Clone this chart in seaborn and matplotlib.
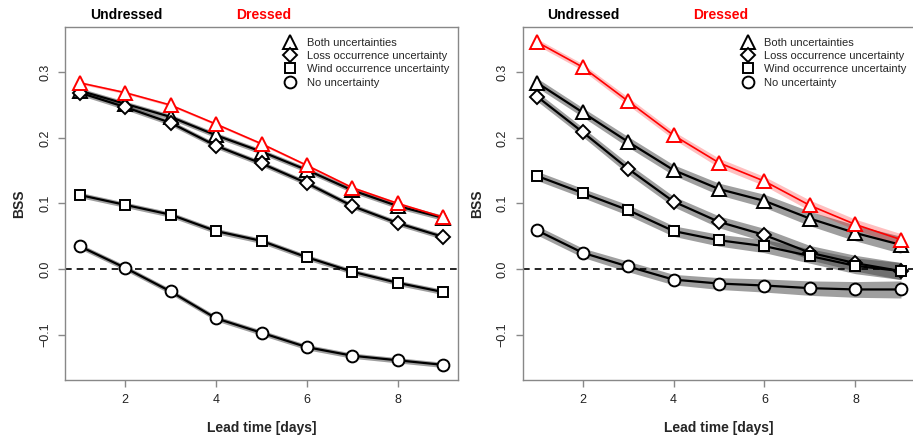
import numpy as np
import pandas as pd
import matplotlib
matplotlib.use("Agg")
import matplotlib.pyplot as plt
from matplotlib.lines import Line2D
import seaborn as sns

sns.set_style("white")
plt.rcParams['font.family'] = ['Liberation Sans', 'DejaVu Sans']

lead = [1, 2, 3, 4, 5, 6, 7, 8, 9]

# left panel
l_both = [0.272, 0.252, 0.232, 0.204, 0.179, 0.151, 0.120, 0.096, 0.078]
l_loss = [0.269, 0.247, 0.223, 0.188, 0.161, 0.131, 0.096, 0.070, 0.049]
l_wind = [0.113, 0.098, 0.083, 0.058, 0.043, 0.018, -0.004, -0.021, -0.035]
l_none = [0.035, 0.002, -0.034, -0.075, -0.097, -0.119, -0.132, -0.139, -0.146]
l_dressed = [0.284, 0.269, 0.250, 0.221, 0.191, 0.158, 0.124, 0.100, 0.079]
l_band = [0.004, 0.004, 0.004, 0.004, 0.004, 0.004, 0.004, 0.004, 0.004]
l_band_red = [0.002, 0.002, 0.002, 0.002, 0.002, 0.002, 0.002, 0.002, 0.002]

# right panel
r_both = [0.284, 0.239, 0.194, 0.151, 0.122, 0.104, 0.077, 0.055, 0.037]
r_loss = [0.263, 0.209, 0.153, 0.103, 0.072, 0.052, 0.025, 0.009, -0.003]
r_wind = [0.142, 0.116, 0.090, 0.058, 0.044, 0.035, 0.020, 0.005, -0.003]
r_none = [0.059, 0.025, 0.004, -0.016, -0.022, -0.025, -0.029, -0.031, -0.031]
r_dressed = [0.346, 0.308, 0.256, 0.204, 0.162, 0.134, 0.097, 0.068, 0.045]
r_band = [0.007, 0.007, 0.008, 0.008, 0.009, 0.010, 0.011, 0.012, 0.013]
r_band_red = [0.005, 0.005, 0.006, 0.006, 0.007, 0.007, 0.008, 0.008, 0.009]

labels = ['Both uncertainties', 'Loss occurrence uncertainty',
          'Wind occurrence uncertainty', 'No uncertainty']
markers = ['^', 'D', 's', 'o']
msizes = [10, 7, 7.5, 8.5]


def draw_panel(ax, series, dressed, band, band_red):
    x = np.array(lead)
    # uncertainty bands first
    for y in series:
        y = np.array(y)
        ax.fill_between(x, y - np.array(band), y + np.array(band),
                        color='#404040', alpha=0.5, lw=0, zorder=1)
    yd = np.array(dressed)
    ax.fill_between(x, yd - np.array(band_red), yd + np.array(band_red),
                    color='red', alpha=0.25, lw=0, zorder=1)
    ax.axhline(0, color='black', ls=(0, (4, 3)), lw=1.2, zorder=2)
    for y, m, ms in zip(series, markers, msizes):
        d = pd.DataFrame({'lead': lead, 'bss': y})
        sns.lineplot(data=d, x='lead', y='bss', ax=ax, color='black', lw=1.6,
                     marker=m, ms=ms, mfc='white', mec='black', mew=1.4,
                     errorbar=None, zorder=3)
    d = pd.DataFrame({'lead': lead, 'bss': dressed})
    sns.lineplot(data=d, x='lead', y='bss', ax=ax, color='red', lw=1.2,
                 marker='^', ms=10, mfc='white', mec='red', mew=1.4,
                 errorbar=None, zorder=4)

    ax.set_xlim(0.68, 9.32)
    ax.set_ylim(-0.169, 0.369)
    ax.set_xticks([2, 4, 6, 8])
    ax.set_yticks([-0.1, 0.0, 0.1, 0.2, 0.3])
    ax.set_yticklabels(['\u22120.1', '0.0', '0.1', '0.2', '0.3'])
    for lab in ax.get_yticklabels():
        lab.set_rotation(90)
        lab.set_va('center')
    ax.tick_params(axis='both', direction='out', length=5, width=1,
                   color='#888888', labelsize=9, labelcolor='#222222',
                   left=True, bottom=True)
    ax.tick_params(axis='y', pad=5)
    ax.tick_params(axis='x', pad=5)
    for sp in ax.spines.values():
        sp.set_color('#888888')
        sp.set_linewidth(1)
    ax.set_xlabel('Lead time [days]', fontsize=10, fontweight='bold', labelpad=11)
    ax.set_ylabel('BSS', fontsize=10, fontweight='bold', labelpad=9)
    ax.text(0.155, 1.034, 'Undressed', transform=ax.transAxes, ha='center',
            va='center', fontsize=10, fontweight='bold', color='black')
    ax.text(0.505, 1.034, 'Dressed', transform=ax.transAxes, ha='center',
            va='center', fontsize=10, fontweight='bold', color='red')
    handles = [Line2D([], [], ls='none', marker=m, ms=ms, mfc='white',
                      mec='black', mew=1.4) for m, ms in zip(markers, msizes)]
    ax.legend(handles, labels, loc='upper left', bbox_to_anchor=(0.556, 0.970),
              frameon=False, fontsize=8, handlelength=1.2, handletextpad=0.9,
              labelspacing=0.3, borderpad=0, borderaxespad=0)


fig = plt.figure(figsize=(9.13, 4.36), dpi=100)
ax1 = fig.add_axes([65 / 913, 56 / 436, 393 / 913, 353 / 436])
ax2 = fig.add_axes([522.5 / 913, 56 / 436, 393 / 913, 353 / 436])

draw_panel(ax1, [l_both, l_loss, l_wind, l_none], l_dressed, l_band, l_band_red)
draw_panel(ax2, [r_both, r_loss, r_wind, r_none], r_dressed, r_band, r_band_red)

fig.savefig('out.png', dpi=100)
